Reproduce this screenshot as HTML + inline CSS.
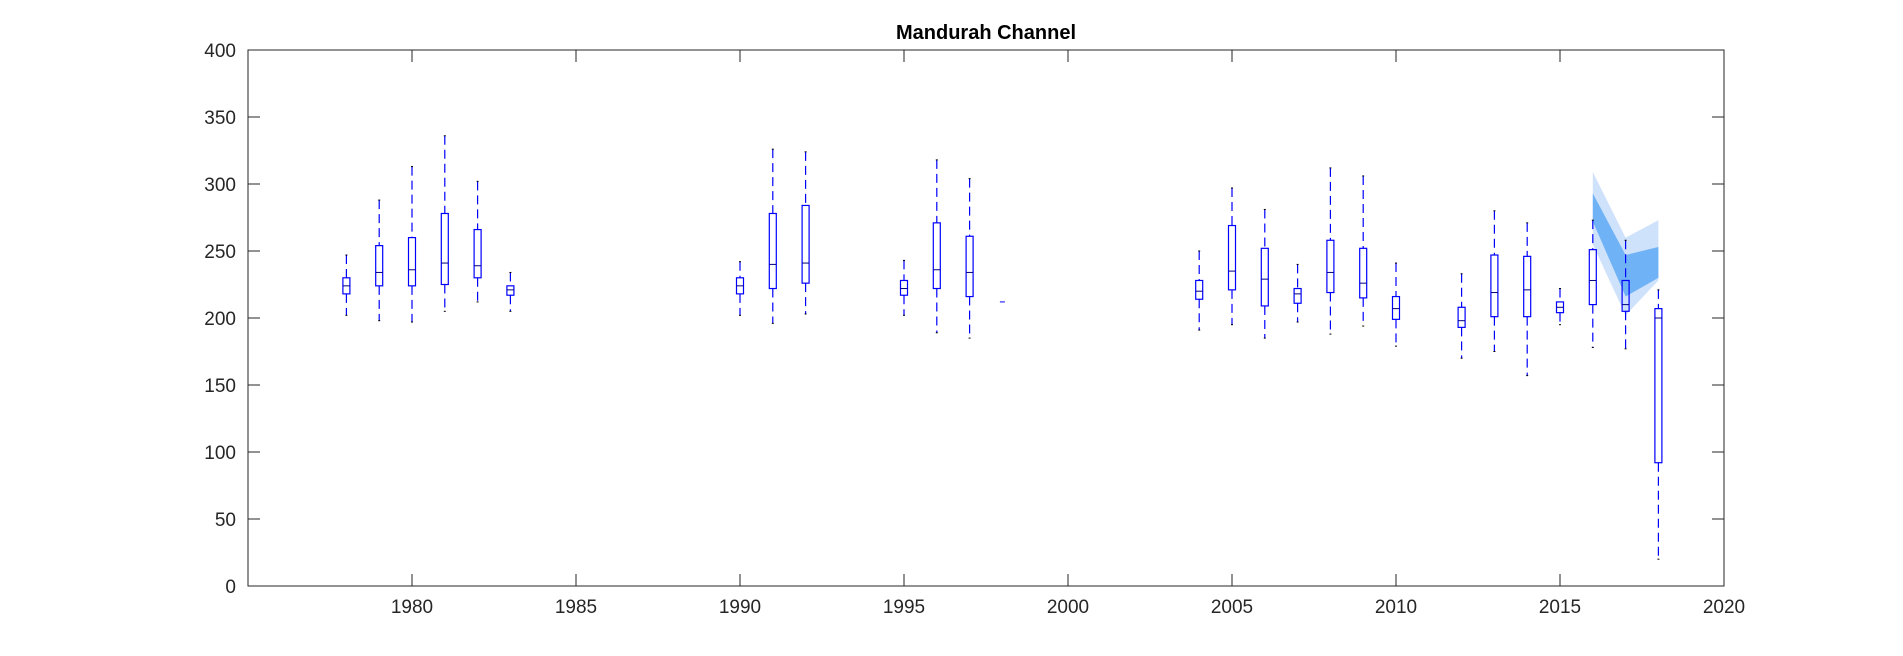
<!DOCTYPE html>
<html><head><meta charset="utf-8"><style>
html,body{margin:0;padding:0;background:#fff;}
svg{display:block;font-family:"Liberation Sans",Arial,sans-serif;}
</style></head><body>
<svg id="chart" width="1903" height="656" viewBox="0 0 1903 656">
<rect x="0" y="0" width="1903" height="656" fill="#fff"/>
<text x="986" y="39" text-anchor="middle" font-size="20" font-weight="bold" fill="#000">Mandurah Channel</text>
<g id="fan"></g>
<g id="boxes"></g>
<g id="axes"></g>
</svg>
<script>
const years=[1978,1979,1980,1981,1982,1983,1990,1991,1992,1995,1996,1997,1998,2004,2005,2006,2007,2008,2009,2010,2012,2013,2014,2015,2016,2017,2018];
const whiskLo=[202,198,197,205,212,205,202,196,203,202,189,185,212,191,195,185,197,188,194,179,170,175,157,195,178,177,20];
const q1=[218,224,224,225,230,217,218,222,226,217,222,216,212,214,221,209,211,219,215,199,193,201,201,204,210,205,92];
const med=[224,234,236,241,239,221,224,240,241,222,236,234,212,220,235,229,218,234,226,207,198,219,221,208,228,210,200];
const q3=[230,254,260,278,266,224,230,278,284,228,271,261,212,228,269,252,222,258,252,216,208,247,246,212,251,228,207];
const whiskHi=[247,288,313,336,302,234,242,326,324,243,318,304,212,250,297,281,240,312,306,241,233,280,271,222,273,258,221];
const fanYears=[2016,2017,2018];
const fanOuterHi=[309,260,273];
const fanInnerHi=[293,247,253];
const fanInnerLo=[272,216,230];
const fanOuterLo=[255,202,228];
const xTicks=[1980,1985,1990,1995,2000,2005,2010,2015,2020];
const yTicks=[0,50,100,150,200,250,300,350,400];

const L=248,R=1724,T=50,B=586,X0=1975,X1=2020,Y0=0,Y1=400;
const sx=v=>L+(v-X0)/(X1-X0)*(R-L);
const sy=v=>B-(v-Y0)/(Y1-Y0)*(B-T);
const NS="http://www.w3.org/2000/svg";
function mk(tag,parent,attrs){const e=document.createElementNS(NS,tag);for(const k in attrs)e.setAttribute(k,attrs[k]);parent.appendChild(e);return e;}

const fan=document.getElementById('fan');
function band(hi,lo,color,name){
  let pts=fanYears.map((y,i)=>sx(y)+','+sy(hi[i]));
  pts=pts.concat(fanYears.slice().reverse().map((y,j)=>{const i=fanYears.length-1-j;return sx(y)+','+sy(lo[i]);}));
  const p=mk('polygon',fan,{points:pts.join(' '),fill:color});
  
  
}
band(fanOuterHi,fanOuterLo,'#cfe2fb','fan-outer-band');
band(fanInnerHi,fanInnerLo,'#6fb2f5','fan-inner-band');

const bx=document.getElementById('boxes');
const hw=3.5;
years.forEach((yr,i)=>{
  const g=mk('g',bx,{});
  
  
  const x=sx(yr);
  if(q1[i]===q3[i]&&whiskLo[i]===whiskHi[i]){
    mk('line',g,{x1:x-2.5,x2:x+2.5,y1:sy(med[i]),y2:sy(med[i]),stroke:'#0000ff','stroke-width':1});
    return;
  }
  mk('line',g,{x1:x,x2:x,y1:sy(whiskHi[i]),y2:sy(q3[i]),stroke:'#0000ff','stroke-width':1.2,'stroke-dasharray':'9,5'});
  mk('line',g,{x1:x,x2:x,y1:sy(q1[i]),y2:sy(whiskLo[i]),stroke:'#0000ff','stroke-width':1.2,'stroke-dasharray':'9,5'});
  mk('line',g,{x1:x-1,x2:x+1,y1:sy(whiskHi[i]),y2:sy(whiskHi[i]),stroke:'#000','stroke-width':1});
  mk('line',g,{x1:x-1,x2:x+1,y1:sy(whiskLo[i]),y2:sy(whiskLo[i]),stroke:'#000','stroke-width':1});
  mk('rect',g,{x:x-hw,y:sy(q3[i]),width:2*hw,height:sy(q1[i])-sy(q3[i]),fill:'none',stroke:'#0000ff','stroke-width':1.2});
  mk('line',g,{x1:x-hw,x2:x+hw,y1:sy(med[i]),y2:sy(med[i]),stroke:'#000080','stroke-width':1});
});

const ax=document.getElementById('axes');
const frame=mk('rect',ax,{x:L,y:T,width:R-L,height:B-T,fill:'none',stroke:'#262626','stroke-width':1});


xTicks.forEach(v=>{
  const x=sx(v);
  mk('line',ax,{x1:x,x2:x,y1:B,y2:B-12,stroke:'#262626'});
  mk('line',ax,{x1:x,x2:x,y1:T,y2:T+12,stroke:'#262626'});
  const t=mk('text',ax,{x:x,y:B+27,'text-anchor':'middle','font-size':19,fill:'#262626'});
  t.textContent=v;
  
  
});
yTicks.forEach(v=>{
  const y=sy(v);
  mk('line',ax,{x1:L,x2:L+12,y1:y,y2:y,stroke:'#262626'});
  mk('line',ax,{x1:R,x2:R-12,y1:y,y2:y,stroke:'#262626'});
  const t=mk('text',ax,{x:L-12,y:y+7,'text-anchor':'end','font-size':19,fill:'#262626'});
  t.textContent=v;
  
  
});
</script>
</body></html>
